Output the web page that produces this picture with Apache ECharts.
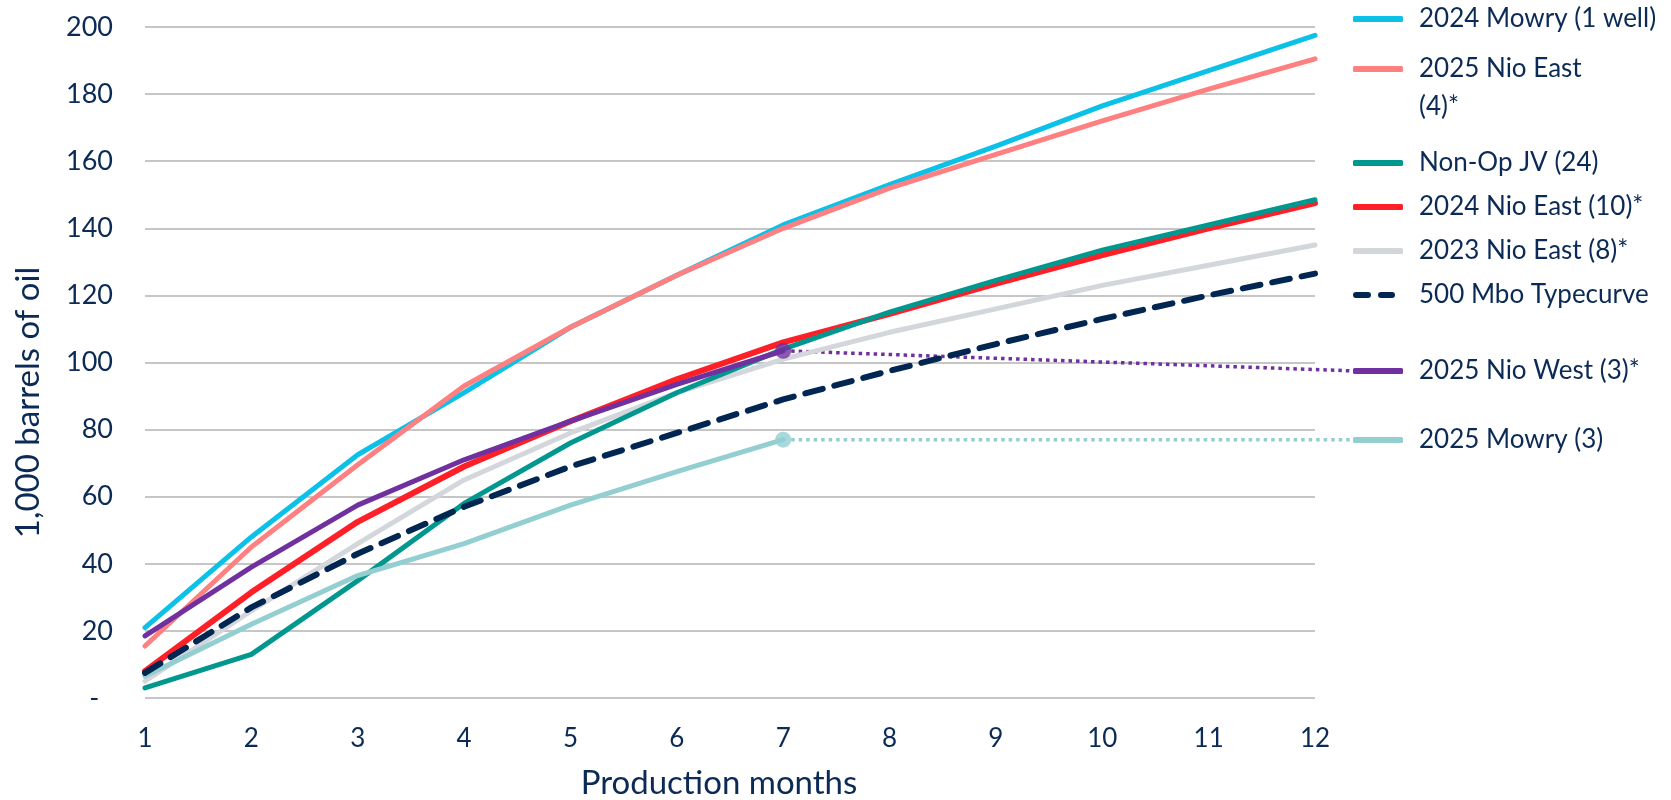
<!DOCTYPE html>
<html>
<head>
<meta charset="utf-8">
<script src="https://cdn.jsdelivr.net/npm/echarts@6/dist/echarts.min.js"></script>
<style>
html,body{margin:0;padding:0;background:#ffffff;}
#chart{width:1671px;height:800px;}
</style>
</head>
<body>
<div id="chart"></div>
<script>
// ---- Data ----
const months = [1, 2, 3, 4, 5, 6, 7, 8, 9, 10, 11, 12];
const yTicks = [0, 20, 40, 60, 80, 100, 120, 140, 160, 180, 200];

const mowry2024     = [21, 48, 72.5, 91, 110.5, 126, 141, 153, 164.5, 176.5, 187, 197.5];
const nioEast2025   = [15.5, 45, 69.5, 93, 110.5, 126, 140, 152, 162, 172, 181.5, 190.5];
const nonOpJV       = [3, 13, 35, 58, 76, 91, 104, 115, 124.5, 133.5, 141, 148.5];
const nioEast2024   = [8, 31.5, 52.5, 69, 82.5, 95, 106, 114.5, 123.5, 132, 140, 147.5];
const nioEast2023   = [5, 26, 46, 65, 79, 91, 101, 109, 116, 123, 129, 135];
const typecurve500  = [7.5, 27, 43, 57, 69, 79, 89, 97.5, 105.5, 113, 120, 126.5];
const nioWest2025   = [18.5, 39, 57.5, 71, 82.5, 93.5, 103.5];
const mowry2025     = [6.5, 22, 36.5, 46, 57.5, 67.5, 77];
// values where the dotted connector meets the legend
const nioWest2025LegendValue = 97.5;
const mowry2025LegendValue = 77;

const names = {
  mowry2024: '2024 Mowry (1 well)',
  nioEast2025: '2025 Nio East (4)*',
  nonOpJV: 'Non-Op JV (24)',
  nioEast2024: '2024 Nio East (10)*',
  nioEast2023: '2023 Nio East (8)*',
  typecurve500: '500 Mbo Typecurve',
  nioWest2025: '2025 Nio West (3)*',
  mowry2025: '2025 Mowry (3)'
};

const colors = {
  mowry2024: '#0CC1E8',
  nioEast2025: '#FF8080',
  nonOpJV: '#00978F',
  nioEast2024: '#FF1F27',
  nioEast2023: '#D3D6DB',
  typecurve500: '#012652',
  nioWest2025: '#7030A0',
  mowry2025: '#93CFD1'
};

const textColor = '#0B2A55';
const FONT = 'Lato, "Noto Sans", sans-serif';

const pairs = arr => arr.map((v, i) => [months[i], v]);

function lineSeries(key, arr, width, extra) {
  return Object.assign({
    name: names[key],
    type: 'line',
    data: pairs(arr),
    symbol: 'none',
    smooth: false,
    lineStyle: { color: colors[key], width: width, cap: 'round', join: 'round' },
    itemStyle: { color: colors[key] },
    emphasis: { disabled: true },
    animation: false
  }, extra || {});
}

// legend layout: [key, icon-centre y]
const legendLeft = 1353;
const legendItems = [
  ['mowry2024', 19],
  ['nioEast2025', 69],
  ['nonOpJV', 163],
  ['nioEast2024', 207],
  ['nioEast2023', 251],
  ['typecurve500', 295],
  ['nioWest2025', 371],
  ['mowry2025', 440]
];

const legendFont = 26;
const legendLH = 32;
const wrapLH = 38;
const dashIcon = 'path://M3,0h12a3,3 0 0 1 0,6h-12a3,3 0 0 1 0,-6z M28,0h11a3,3 0 0 1 0,6h-11a3,3 0 0 1 0,-6z';

const legends = legendItems.map(([key, cy]) => {
  const wrapped = key === 'nioEast2025';
  const dashed = key === 'typecurve500';
  const lh = wrapped ? wrapLH : legendLH;
  const lg = {
    left: legendLeft,
    padding: 0,
    orient: 'vertical',
    data: [names[key]],
    icon: dashed ? dashIcon : 'roundRect',
    itemWidth: dashed ? 42 : 50,
    itemHeight: 6,
    itemGap: 0,
    selectedMode: false,
    textStyle: {
      color: textColor,
      fontFamily: FONT,
      fontSize: legendFont,
      lineHeight: lh,
      padding: [0, 0, 0, dashed ? 19 : 11]
    }
  };
  if (wrapped) {
    // leading blank line keeps the first text line level with the icon
    lg.formatter = n => '\n' + n.replace('East ', 'East\n');
    lg.top = cy - 1.5 * lh;
  } else {
    lg.top = cy - lh / 2;
  }
  return lg;
});

const series = [
  lineSeries('nioEast2023', nioEast2023, 5, { z: 2 }),
  lineSeries('mowry2024', mowry2024, 5, { z: 3 }),
  lineSeries('nioEast2025', nioEast2025, 5, { z: 4 }),
  lineSeries('nioEast2024', nioEast2024, 6, { z: 5 }),
  lineSeries('nonOpJV', nonOpJV, 5, { z: 6 }),
  lineSeries('mowry2025', mowry2025, 5, { z: 7 }),
  lineSeries('typecurve500', typecurve500, 6, { z: 8, lineStyle: { color: colors.typecurve500, width: 6, type: [18, 12], cap: 'round' } }),
  lineSeries('nioWest2025', nioWest2025, 5, { z: 9 }),
  // end-point markers
  {
    type: 'scatter', name: 'nioWestEnd', data: [[months[nioWest2025.length - 1], nioWest2025[nioWest2025.length - 1]]],
    symbol: 'circle', symbolSize: 16, itemStyle: { color: colors.nioWest2025 }, z: 10, animation: false, silent: true
  },
  {
    type: 'scatter', name: 'mowry2025End', data: [[months[mowry2025.length - 1], mowry2025[mowry2025.length - 1]]],
    symbol: 'circle', symbolSize: 16, itemStyle: { color: colors.mowry2025 }, z: 10, animation: false, silent: true
  }
];

const chart = echarts.init(document.getElementById('chart'), null, { renderer: 'canvas' });

const option = {
  backgroundColor: '#ffffff',
  animation: false,
  grid: { left: 145, right: 356, top: 27, bottom: 102, containLabel: false, outerBoundsMode: 'none' },
  xAxis: {
    type: 'value',
    min: months[0], max: months[months.length - 1], interval: 1,
    name: 'Production months',
    nameLocation: 'middle',
    nameGap: 69,
    nameTextStyle: { color: textColor, fontFamily: FONT, fontSize: 33, padding: [0, 22, 0, 0] },
    axisLine: { show: false },
    axisTick: { show: false },
    splitLine: { show: false },
    axisLabel: { color: textColor, fontFamily: FONT, fontSize: 26, margin: 28 }
  },
  yAxis: {
    type: 'value',
    min: yTicks[0], max: yTicks[yTicks.length - 1], interval: yTicks[1] - yTicks[0],
    name: '1,000 barrels of oil',
    nameLocation: 'middle',
    nameGap: 100,
    nameTextStyle: { color: textColor, fontFamily: FONT, fontSize: 33, padding: [0, 80, 0, 0] },
    axisLine: { show: false },
    axisTick: { show: false },
    splitLine: { show: true, lineStyle: { color: '#C6C6C6', width: 2 } },
    axisLabel: {
      color: textColor, fontFamily: FONT, fontSize: 27, margin: 32,
      formatter: v => (v === 0 ? '-  ' : String(v))
    }
  },
  legend: legends,
  series: series
};

chart.setOption(option);

// dotted connectors from the last point to the legend icon, positioned via the chart's own scales
function connector(arr, legendValue, color) {
  const last = arr.length - 1;
  const p0 = chart.convertToPixel({ gridIndex: 0 }, [months[last], arr[last]]);
  const p1y = chart.convertToPixel({ gridIndex: 0 }, [months[last], legendValue])[1];
  return {
    type: 'polyline',
    z: 1,
    silent: true,
    shape: { points: [[p0[0] + 8, p0[1] + (p1y - p0[1]) * 8 / (legendLeft - p0[0])], [legendLeft, p1y]] },
    style: { stroke: color, lineWidth: 3.5, lineDash: [3.5, 4], fill: null }
  };
}
chart.setOption({
  graphic: [
    connector(nioWest2025, nioWest2025LegendValue, colors.nioWest2025),
    connector(mowry2025, mowry2025LegendValue, colors.mowry2025)
  ]
});
</script>
</body>
</html>
